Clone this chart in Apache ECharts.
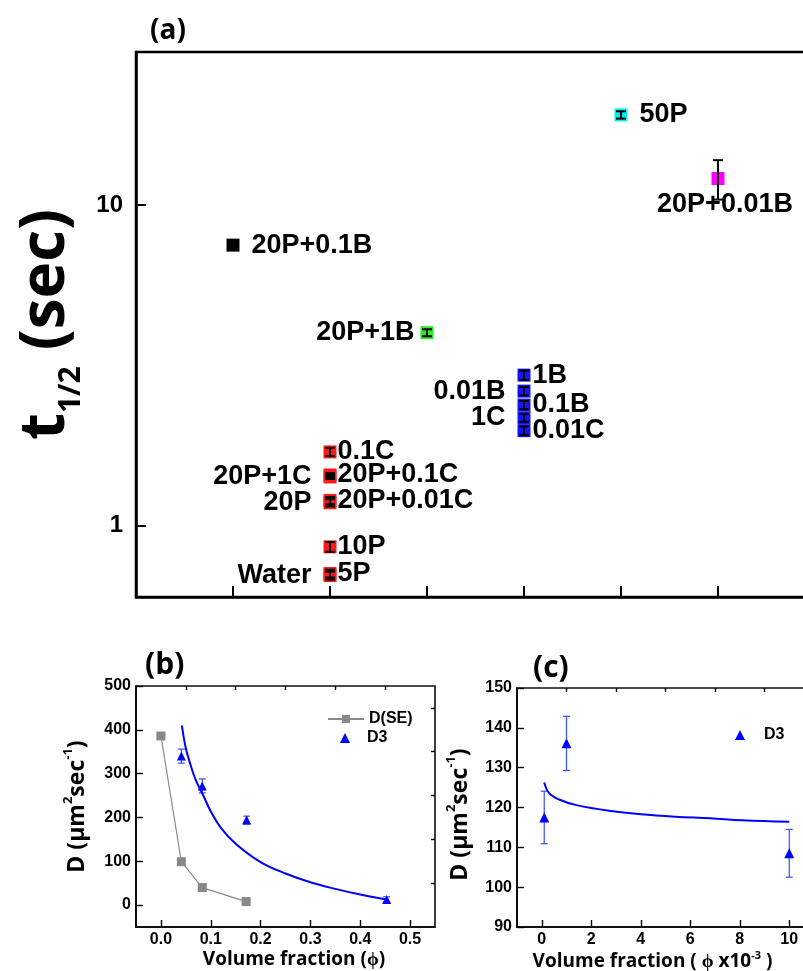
<!DOCTYPE html>
<html>
<head>
<meta charset="utf-8">
<script src="https://cdn.jsdelivr.net/npm/echarts@6.0.0/dist/echarts.min.js"></script>
<style>
  html, body { margin: 0; padding: 0; background: #fff; }
  #main { width: 803px; height: 971px; }
</style>
</head>
<body>
<div id="main"></div>
<script>
// ---- panel (a): half time per sample ----
const sampleNames = ['20P+0.1B', 'Water', '5P', '10P', '20P', '20P+0.01C', '20P+1C', '20P+0.1C', '0.1C',
                     '20P+1B', '0.01C', '1C', '0.1B', '0.01B', '1B', '50P', '20P+0.01B'];
const samplePos   = [1, 2, 2, 2, 2, 2, 2, 2, 2, 3, 4, 4, 4, 4, 4, 5, 6];
const sampleT     = [7.5, 0.70, 0.71, 0.86, 1.18, 1.20, 1.42, 1.44, 1.70, 4.0, 1.98, 2.17, 2.38, 2.63, 2.95, 19.1, 12.1];
const sampleErr   = [0, 0.02, 0.02, 0.03, 0.03, 0.03, 0.02, 0.02, 0.05, 0.1, 0.06, 0.06, 0.07, 0.08, 0.1, 0.5, 1.7];
const sampleGroup = ['k', 'r', 'r', 'r', 'r', 'r', 'r', 'r', 'r', 'g', 'b', 'b', 'b', 'b', 'b', 'c', 'm'];
const aMajorTicks = [1, 10];
const aMinorTicks = [0.7, 0.8, 0.9, 2, 3, 4, 5, 6, 7, 8, 9, 20];

// ---- panel (b): D vs volume fraction ----
const seVol = [0, 0.041, 0.083, 0.171];
const seD   = [386, 99, 40, 8];
const d3Vol = [0.041, 0.083, 0.172, 0.453];
const d3D   = [340, 272, 194, 13];
const d3Err = [16, 16, 9, 6];
const fitBVol = [0.042, 0.05, 0.06, 0.07, 0.085, 0.1, 0.12, 0.15, 0.2, 0.25, 0.3, 0.35, 0.4, 0.455];
const fitBD   = [410, 358, 318, 285, 250, 214, 177, 140, 98, 72, 52, 37, 24, 12];
const bXTicks = [0, 0.1, 0.2, 0.3, 0.4, 0.5];
const bXMinor = [0.05, 0.15, 0.25, 0.35, 0.45];
const bYTicks = [0, 100, 200, 300, 400, 500];
const bYMinor = [50, 150, 250, 350, 450];

// ---- panel (c): D vs volume fraction (x10^-3) ----
const cVol = [0.1, 1, 10];
const cD   = [117.5, 136.1, 108.5];
const cErr = [6.6, 6.8, 6.0];
const fitCVol = [0.1, 0.3, 0.7, 1.4, 2.8, 4, 5.4, 6.8, 8.1, 10];
const fitCD   = [126.3, 123.6, 122.0, 120.6, 119.1, 118.3, 117.7, 117.3, 116.8, 116.4];
const cXTicks = [0, 2, 4, 6, 8, 10];
const cXMinor = [1, 3, 5, 7, 9];
const cYTicks = [90, 100, 110, 120, 130, 140, 150];
const cYMinor = [95, 105, 115, 125, 135, 145];

// styles
const groupColor = { k: '#000000', r: '#ff1a1a', g: '#22ee22', b: '#1414ff', c: '#00f0f0', m: '#ff00ff' };
const labelPlace = {
  '20P+0.1B': ['right', 12], 'Water': ['left', 12], '5P': ['right', 1], '10P': ['right', 1],
  '20P': ['left', 12], '20P+0.01C': ['right', 1], '20P+1C': ['left', 12], '20P+0.1C': ['right', 1],
  '0.1C': ['right', 1], '20P+1B': ['left', 6], '0.01C': ['right', 2], '1C': ['left', 12],
  '0.1B': ['right', 2], '0.01B': ['left', 12], '1B': ['right', 2], '50P': ['right', 12],
  '20P+0.01B': ['bottom', 6]
};
const LAB = 'Liberation Sans';
const TTL = 'Open Sans';

const chartDom = document.getElementById('main');
const myChart = echarts.init(chartDom);

function errorBars(color, cap, width) {
  return function (params, api) {
    const x = api.value(0);
    const p1 = api.coord([x, api.value(1)]);
    const p2 = api.coord([x, api.value(2)]);
    const st = { stroke: color, lineWidth: width };
    return {
      type: 'group',
      children: [
        { type: 'line', shape: { x1: p1[0], y1: p1[1], x2: p2[0], y2: p2[1] }, style: st },
        { type: 'line', shape: { x1: p1[0] - cap, y1: p1[1], x2: p1[0] + cap, y2: p1[1] }, style: st },
        { type: 'line', shape: { x1: p2[0] - cap, y1: p2[1], x2: p2[0] + cap, y2: p2[1] }, style: st }
      ]
    };
  };
}

function zip(xs, ys) { return xs.map((x, i) => [x, ys[i]]); }
function errData(xs, ys, es) { return xs.map((x, i) => [x, ys[i] - es[i], ys[i] + es[i]]); }
const blank = () => '';

// one major axis (with labels) and one minor axis (ticks only)
function axisPair(gridIndex, type, min, max, major, minor, o) {
  const main = {
    type: type, gridIndex: gridIndex, min: min, max: max,
    axisLine: { show: true, onZero: false, lineStyle: { color: '#000', width: o.lineW } },
    axisTick: { show: true, inside: true, length: o.majorLen, customValues: major, lineStyle: { color: '#000', width: o.tickW } },
    axisLabel: { show: true, customValues: major, margin: o.margin, color: '#000',
                 fontFamily: LAB, fontWeight: 'bold', fontSize: o.fontSize },
    minorTick: { show: false },
    splitLine: { show: false },
    nameMoveOverlap: false
  };
  if (!o.labels) main.axisLabel.formatter = blank;
  if (type === 'log') main.logBase = 10;
  const sub = {
    type: type, gridIndex: gridIndex, min: min, max: max,
    axisLine: { show: false, onZero: false },
    axisTick: { show: true, inside: true, length: o.minorLen, customValues: minor,
                lineStyle: { color: '#000', width: o.tickW } },
    axisLabel: { show: true, customValues: minor, formatter: blank },
    splitLine: { show: false },
    nameMoveOverlap: false
  };
  if (type === 'log') sub.logBase = 10;
  return [main, sub];
}

const aStyle = { lineW: 2.5, tickW: 2, majorLen: 10, minorLen: 6, labels: true, margin: 13, fontSize: 24 };
const bcStyle = { lineW: 1.6, tickW: 1.4, majorLen: 7, minorLen: 4, labels: true, margin: 5, fontSize: 16 };

// panel (a) x axis: plain slots 1..6, ticks every 1 from min 0
const ax0 = {
  type: 'value', gridIndex: 0, min: 0, max: 7, interval: 1,
  axisLine: { show: true, onZero: false, lineStyle: { color: '#000', width: 2.5 } },
  axisTick: { show: true, inside: true, length: 11, lineStyle: { color: '#000', width: 2 } },
  axisLabel: { show: true, formatter: blank },
  splitLine: { show: false }
};
const ay0 = axisPair(0, 'log', 0.6, 30, aMajorTicks, aMinorTicks, aStyle);
const ax1 = axisPair(1, 'value', -0.05, 0.55, bXTicks, bXMinor, bcStyle);
const ay1 = axisPair(1, 'value', -50, 500, bYTicks, bYMinor, bcStyle);
const ax2 = axisPair(2, 'value', -1, 11, cXTicks, cXMinor, bcStyle);
const ay2 = axisPair(2, 'value', 90, 150, cYTicks, cYMinor, bcStyle);

ax1[0].axisLabel.formatter = v => v.toFixed(1);

// axis titles
ay0[0].name = '{t|t}{s|1/2}{t| (sec)}';
ay0[0].nameLocation = 'middle';
ay0[0].nameGap = 50;
ay0[0].nameTextStyle = {
  color: '#000',
  rich: {
    t: { fontFamily: TTL, fontWeight: 'bold', fontSize: 62, lineHeight: 80, color: '#000' },
    s: { fontFamily: TTL, fontWeight: 'bold', fontSize: 30, lineHeight: 30, verticalAlign: 'bottom', color: '#000' }
  }
};
const dName = '{n|D (μm}{s|2}{n|sec}{s|-1}{n|)}';
const dRich = {
  n: { fontFamily: TTL, fontWeight: 'bold', fontSize: 23, lineHeight: 30, color: '#000' },
  s: { fontFamily: TTL, fontWeight: 'bold', fontSize: 13, lineHeight: 13, verticalAlign: 'top', color: '#000' }
};
ay1[0].name = dName; ay1[0].nameLocation = 'middle'; ay1[0].nameGap = 44;
ay1[0].nameTextStyle = { color: '#000', rich: dRich };
ay2[0].name = dName; ay2[0].nameLocation = 'middle'; ay2[0].nameGap = 42;
ay2[0].nameTextStyle = { color: '#000', rich: dRich, padding: [0, 14, 0, 0] };

ax1[0].name = 'Volume fraction (ϕ)';
ax1[0].nameLocation = 'middle'; ax1[0].nameGap = 23;
ax1[0].nameTextStyle = { color: '#000', fontFamily: TTL, fontWeight: 'bold', fontSize: 19, padding: [0, 0, 0, 17] };
ax2[0].name = '{n|Volume fraction ( ϕ x10}{s|-3}{n| )}';
ax2[0].nameLocation = 'middle'; ax2[0].nameGap = 23;
ax2[0].nameTextStyle = {
  color: '#000', padding: [0, 26, 0, 0],
  rich: {
    n: { fontFamily: TTL, fontWeight: 'bold', fontSize: 19, lineHeight: 24, color: '#000' },
    s: { fontFamily: TTL, fontWeight: 'bold', fontSize: 11, lineHeight: 11, verticalAlign: 'top', color: '#000' }
  }
};

// panel (a) points
const aPoints = sampleNames.map((n, i) => {
  const lp = labelPlace[n];
  const item = {
    name: n,
    value: [samplePos[i], sampleT[i]],
    itemStyle: { color: groupColor[sampleGroup[i]], opacity: 1 },
    label: { position: lp[0], distance: lp[1] }
  };
  if (lp[0] === 'bottom') item.label.offset = [7, 0];
  return item;
});
const aErrData = [];
sampleNames.forEach((n, i) => {
  if (sampleErr[i] > 0) aErrData.push([samplePos[i], sampleT[i] - sampleErr[i], sampleT[i] + sampleErr[i]]);
});

const legendText = { color: '#000', fontFamily: LAB, fontWeight: 'bold', fontSize: 16 };

const option = {
  animation: false,
  backgroundColor: '#ffffff',
  grid: [
    { left: 136, top: 52, right: -12, bottom: 374, show: true, borderColor: '#000', borderWidth: 2.5, outerBoundsMode: 'none', containLabel: false },
    { left: 136, top: 686, right: 368, bottom: 44, show: true, borderColor: '#111', borderWidth: 1.6, outerBoundsMode: 'none', containLabel: false },
    { left: 517, top: 688, right: -11, bottom: 44, show: true, borderColor: '#111', borderWidth: 1.6, outerBoundsMode: 'none', containLabel: false }
  ],
  xAxis: [ax0, ax1[0], ax1[1], ax2[0], ax2[1]],
  yAxis: [ay0[0], ay0[1], ay1[0], ay1[1], ay2[0], ay2[1]],
  graphic: [
    { type: 'text', left: 150, top: 17, style: { text: '(a)', fontFamily: TTL, fontWeight: 'bold', fontSize: 28, fill: '#000' } },
    { type: 'text', left: 145, top: 650, style: { text: '(b)', fontFamily: TTL, fontWeight: 'bold', fontSize: 30, fill: '#000' } },
    { type: 'text', left: 533, top: 653, style: { text: '(c)', fontFamily: TTL, fontWeight: 'bold', fontSize: 30, fill: '#000' } }
  ],
  legend: [
    {
      data: ['D(SE)'], orient: 'vertical', left: 327, top: 711, padding: 0,
      itemWidth: 36, itemHeight: 10,
      textStyle: legendText, selectedMode: false
    },
    {
      data: ['D3'], orient: 'vertical', left: 340, top: 730, padding: 0,
      itemWidth: 10, itemHeight: 10, symbolKeepAspect: true,
      textStyle: Object.assign({ padding: [0, 0, 0, 12] }, legendText), selectedMode: false
    },
    {
      data: ['D3'], orient: 'vertical', left: 735, top: 727, padding: 0,
      itemWidth: 10, itemHeight: 10, symbolKeepAspect: true,
      textStyle: Object.assign({ padding: [0, 0, 0, 14] }, legendText), selectedMode: false
    }
  ],
  series: [
    // (a)
    {
      type: 'scatter', xAxisIndex: 0, yAxisIndex: 0, symbol: 'rect', symbolSize: 13,
      data: aPoints,
      itemStyle: { opacity: 1 },
      label: { show: true, formatter: '{b}', color: '#000', opacity: 1, textBorderWidth: 0,
               fontFamily: LAB, fontWeight: 'bold', fontSize: 27 },
      emphasis: { disabled: true }, z: 3
    },
    {
      type: 'custom', xAxisIndex: 0, yAxisIndex: 0, renderItem: errorBars('#000', 5, 2),
      data: aErrData, encode: { x: 0, y: [1, 2] }, z: 4, silent: true
    },
    // (b)
    {
      name: 'D(SE)', type: 'line', xAxisIndex: 1, yAxisIndex: 2, data: zip(seVol, seD),
      symbol: 'rect', symbolSize: 9, showAllSymbol: true,
      lineStyle: { color: '#8a8a8a', width: 1.2 }, itemStyle: { color: '#888888', opacity: 1 },
      emphasis: { disabled: true }
    },
    {
      type: 'line', xAxisIndex: 1, yAxisIndex: 2, data: zip(fitBVol, fitBD),
      symbol: 'none', smooth: 0.4, lineStyle: { color: '#0000ff', width: 2 },
      emphasis: { disabled: true }, silent: true
    },
    {
      type: 'custom', xAxisIndex: 1, yAxisIndex: 2, renderItem: errorBars('#3a4cff', 3.5, 1.2),
      data: errData(d3Vol, d3D, d3Err), encode: { x: 0, y: [1, 2] }, silent: true
    },
    {
      name: 'D3', type: 'scatter', xAxisIndex: 1, yAxisIndex: 2, data: zip(d3Vol, d3D),
      symbol: 'triangle', symbolSize: 9, itemStyle: { color: '#0000ff', opacity: 1 },
      emphasis: { disabled: true }
    },
    // (c)
    {
      type: 'line', xAxisIndex: 3, yAxisIndex: 4, data: zip(fitCVol, fitCD),
      symbol: 'none', smooth: 0.4, lineStyle: { color: '#0000ff', width: 2 },
      emphasis: { disabled: true }, silent: true
    },
    {
      type: 'custom', xAxisIndex: 3, yAxisIndex: 4, renderItem: errorBars('#3a4cff', 3.5, 1.2),
      data: errData(cVol, cD, cErr), encode: { x: 0, y: [1, 2] }, silent: true
    },
    {
      name: 'D3', type: 'scatter', xAxisIndex: 3, yAxisIndex: 4, data: zip(cVol, cD),
      symbol: 'triangle', symbolSize: 10, itemStyle: { color: '#0000ff', opacity: 1 },
      emphasis: { disabled: true }
    }
  ]
};

option && myChart.setOption(option);
</script>
</body>
</html>
